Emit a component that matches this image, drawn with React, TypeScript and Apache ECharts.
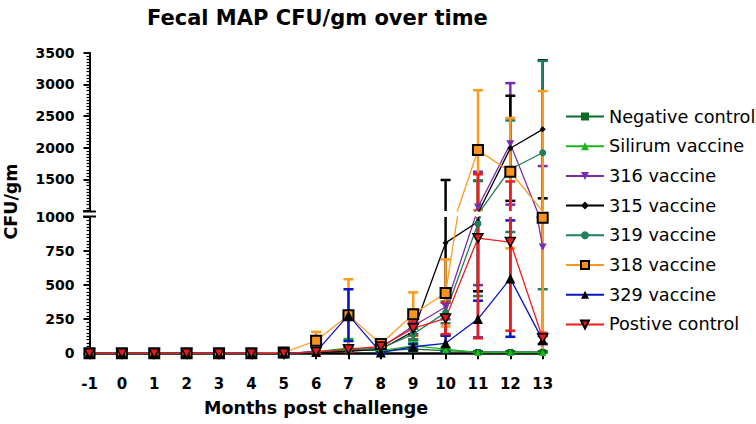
import React, { useEffect, useRef } from "react";
import * as echarts from "echarts";

const months = [-1, 0, 1, 2, 3, 4, 5, 6, 7, 8, 9, 10, 11, 12, 13];

const negMean = [0, 0, 0, 0, 0, 0, 0, 5, 30, 20, 30, 20, 10, 10, 10];
const negErr = [0, 0, 0, 0, 0, 0, 0, 5, 20, 10, 15, 10, 5, 5, 5];
const silMean = [0, 0, 0, 0, 0, 0, 0, 10, 40, 20, 55, 30, 5, 5, 5];
const silErr = [0, 0, 0, 0, 0, 0, 0, 5, 65, 10, 25, 15, 0, 0, 0];
const v316Mean = [0, 0, 0, 0, 0, 0, 0, 10, 20, 40, 200, 340, 1060, 2060, 780];
const v316Err = [0, 0, 0, 0, 0, 0, 0, 5, 10, 15, 60, 90, 560, 960, 930];
const v315Mean = [0, 0, 0, 0, 0, 0, 0, 5, 15, 30, 160, 810, 965, 1990, 2290];
const v315Err = [0, 0, 0, 0, 0, 0, 0, 5, 10, 10, 60, 680, 510, 830, 1090];
const v319Mean = [0, 0, 0, 0, 0, 0, 0, 10, 25, 35, 140, 300, 950, 1660, 1920];
const v319Err = [0, 0, 0, 0, 0, 0, 0, 5, 10, 10, 40, 80, 530, 770, 1450];
const v318Mean = [0, 0, 0, 0, 0, 0, 5, 92, 280, 68, 287, 443, 1962, 1620, 994];
const v318Err = [0, 0, 0, 0, 0, 0, 0, 65, 263, 15, 160, 246, 946, 850, 1900];
const v329Mean = [0, 0, 0, 0, 0, 0, 0, 10, 280, 5, 48, 73, 251, 548, 97];
const v329Err = [0, 0, 0, 0, 0, 0, 0, 5, 190, 5, 20, 60, 135, 427, 30];
const posMean = [0, 0, 0, 0, 0, 0, 0, 10, 30, 50, 183, 256, 845, 816, 110];
const posErr = [0, 0, 0, 0, 0, 0, 0, 5, 20, 20, 50, 115, 735, 650, 40];

const FONT = "DejaVu Sans";
const DOWN_TRI = "path://M0,0 L10,0 L5,9 Z";

type Def = {
  name: string;
  mean: number[];
  err: number[];
  line: string;
  symbol: string;
  size: number;
  fill: string;
  border: string;
  borderWidth: number;
  errColor: string;
};

const defs: Def[] = [
  { name: "Negative control", mean: negMean, err: negErr, line: "#0c6a28", symbol: "rect", size: 6, fill: "#0c6a28", border: "#0c6a28", borderWidth: 0, errColor: "#0c6a28" },
  { name: "Silirum vaccine", mean: silMean, err: silErr, line: "#1fb51f", symbol: "triangle", size: 7, fill: "#1fb51f", border: "#1fb51f", borderWidth: 0, errColor: "#1fb51f" },
  { name: "316 vaccine", mean: v316Mean, err: v316Err, line: "#7a2cae", symbol: DOWN_TRI, size: 8, fill: "#7a2cae", border: "#7a2cae", borderWidth: 0, errColor: "#7a2cae" },
  { name: "315 vaccine", mean: v315Mean, err: v315Err, line: "#000000", symbol: "diamond", size: 6, fill: "#000000", border: "#000000", borderWidth: 0, errColor: "#000000" },
  { name: "319 vaccine", mean: v319Mean, err: v319Err, line: "#1f7f58", symbol: "circle", size: 7, fill: "#1f7f58", border: "#1f7f58", borderWidth: 0, errColor: "#1f7f58" },
  { name: "318 vaccine", mean: v318Mean, err: v318Err, line: "#ff9a1f", symbol: "rect", size: 10, fill: "#f7931e", border: "#000000", borderWidth: 2, errColor: "#ff9a1f" },
  { name: "329 vaccine", mean: v329Mean, err: v329Err, line: "#0a14c8", symbol: "triangle", size: 10, fill: "#000000", border: "#000000", borderWidth: 0, errColor: "#0a14c8" },
  { name: "Postive control", mean: posMean, err: posErr, line: "#ee1c1c", symbol: DOWN_TRI, size: 10, fill: "#e31b1b", border: "#000000", borderWidth: 1.5, errColor: "#ee1c1c" },
];

export default function App() {
  const ref = useRef<HTMLDivElement>(null);

  useEffect(() => {
    if (!ref.current) return;
    const chart = echarts.init(ref.current, null, { renderer: "svg" });

    const gridLeft = 89.5;
    const gridRight = 756 - 542.7;
    const ranges = [
      { min: 0, max: 1000 },
      { min: 1000, max: 3500 },
    ];

    const series: any[] = [];
    defs.forEach((d) => {
      [0, 1].forEach((gi) => {
        const r = ranges[gi];
        series.push({
          type: "custom",
          name: d.name + " SEM " + gi,
          xAxisIndex: gi,
          yAxisIndex: gi,
          z: 1,
          silent: true,
          data: months.map((m, i) => [m, d.mean[i], d.err[i]]),
          renderItem: (params: any, api: any) => {
            const x = api.value(0);
            const m = api.value(1);
            const e = api.value(2);
            if (!e) return null;
            const hi = m + e;
            const lo = m - e;
            if (hi < r.min || lo > r.max) return null;
            const hiC = Math.min(hi, r.max);
            const loC = Math.max(lo, r.min);
            const pTop = api.coord([x, hiC]);
            const pBot = api.coord([x, loC]);
            const w = 5;
            const style = { stroke: d.errColor, lineWidth: 2.5 };
            const children: any[] = [
              { type: "line", shape: { x1: pTop[0], y1: pTop[1], x2: pBot[0], y2: pBot[1] }, style },
            ];
            if (hi <= r.max) children.push({ type: "line", shape: { x1: pTop[0] - w, y1: pTop[1], x2: pTop[0] + w, y2: pTop[1] }, style });
            if (lo >= r.min) children.push({ type: "line", shape: { x1: pBot[0] - w, y1: pBot[1], x2: pBot[0] + w, y2: pBot[1] }, style });
            return { type: "group", children };
          },
        });
      });
    });
    defs.forEach((d) => {
      [0, 1].forEach((gi) => {
        series.push({
          type: "line",
          name: d.name,
          xAxisIndex: gi,
          yAxisIndex: gi,
          z: 3,
          clip: true,
          symbol: d.symbol,
          symbolSize: d.size,
          symbolKeepAspect: true,
          showAllSymbol: true,
          lineStyle: { color: d.line, width: 1.3 },
          itemStyle: { color: d.fill, borderColor: d.border, borderWidth: d.borderWidth },
          emphasis: { disabled: true },
          data: months.map((m, i) => [m, d.mean[i]]),
        });
      });
    });

    const axisLabelY = {
      fontFamily: FONT,
      fontWeight: "bold",
      fontSize: 14,
      color: "#000",
      margin: 15,
      formatter: (v: number) => String(v),
    };

    chart.setOption({
      animation: false,
      title: {
        text: "Fecal MAP CFU/gm over time",
        left: 142,
        top: 2,
        textStyle: { fontFamily: FONT, fontWeight: "bold", fontSize: 21, color: "#000" },
      },
      legend: {
        orient: "vertical",
        left: 560,
        top: 101.5,
        itemWidth: 38,
        itemHeight: 10,
        itemGap: 9.7,
        data: defs.map((d) => d.name),
        textStyle: { fontFamily: FONT, fontSize: 17.7, color: "#000", lineHeight: 20 },
        selectedMode: false,
      },
      grid: [
        { left: gridLeft, right: gridRight, top: 217, bottom: 424 - 353.3 },
        { left: gridLeft, right: gridRight, top: 52.7, bottom: 424 - 211 },
      ],
      xAxis: [
        {
          type: "value",
          gridIndex: 0,
          min: -1,
          max: 13,
          interval: 1,
          name: "Months post challenge",
          nameLocation: "middle",
          nameGap: 46,
          nameTextStyle: { fontFamily: FONT, fontWeight: "bold", fontSize: 17.5, color: "#000" },
          axisLine: { onZero: false, lineStyle: { color: "#000", width: 2.5 } },
          axisTick: { show: true, length: 6, lineStyle: { color: "#000", width: 2 } },
          axisLabel: { fontFamily: FONT, fontWeight: "bold", fontSize: 15, color: "#000", margin: 23 },
          splitLine: { show: false },
        },
        {
          type: "value",
          gridIndex: 1,
          min: -1,
          max: 13,
          interval: 1,
          show: false,
          axisLine: { onZero: false },
          splitLine: { show: false },
        },
      ],
      yAxis: [
        {
          type: "value",
          gridIndex: 0,
          min: 0,
          max: 1000,
          interval: 250,
          axisLine: { show: true, onZero: false, lineStyle: { color: "#000", width: 2 } },
          axisTick: { show: true, length: 6, lineStyle: { color: "#000", width: 2 } },
          minorTick: { show: true, splitNumber: 10, length: 3, lineStyle: { color: "#000", width: 1.2 } },
          axisLabel: axisLabelY,
          splitLine: { show: false },
        },
        {
          type: "value",
          gridIndex: 1,
          min: 1000,
          max: 3500,
          interval: 500,
          axisLine: { show: true, onZero: false, lineStyle: { color: "#000", width: 2 } },
          axisTick: { show: true, length: 6, lineStyle: { color: "#000", width: 2 } },
          minorTick: { show: true, splitNumber: 10, length: 3, lineStyle: { color: "#000", width: 1.2 } },
          axisLabel: { ...axisLabelY, showMinLabel: false },
          splitLine: { show: false },
        },
      ],
      graphic: [
        {
          type: "text",
          x: 11,
          y: 201.5,
          rotation: Math.PI / 2,
          style: {
            text: "CFU/gm",
            fontFamily: FONT,
            fontWeight: "bold",
            fontSize: 17.5,
            fill: "#000",
            textAlign: "center",
            textVerticalAlign: "middle",
          },
        },
        { type: "line", shape: { x1: 83, y1: 211.5, x2: 96, y2: 211.5 }, style: { stroke: "#000", lineWidth: 2 } },
        { type: "line", shape: { x1: 83, y1: 216.5, x2: 96, y2: 216.5 }, style: { stroke: "#000", lineWidth: 2 } },
      ],
      series,
    });

    return () => chart.dispose();
  }, []);

  return (
    <div
      ref={ref}
      style={{ position: "fixed", left: 0, top: 0, width: 756, height: 424, background: "#fff" }}
    />
  );
}
